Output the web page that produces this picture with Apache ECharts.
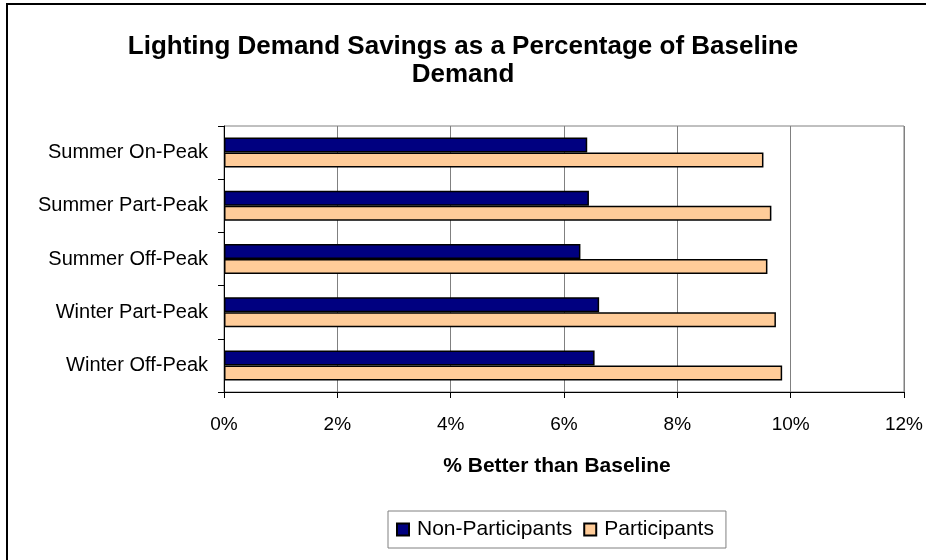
<!DOCTYPE html>
<html>
<head>
<meta charset="utf-8">
<script src="https://cdn.jsdelivr.net/npm/echarts@6/dist/echarts.min.js"></script>
<style>
  html, body { margin: 0; padding: 0; background: #fff; }
  #chart { width: 926px; height: 560px; }
</style>
</head>
<body>
<div id="chart"></div>
<script>
// Rate periods (top to bottom)
const categories = [
  'Summer On-Peak',
  'Summer Part-Peak',
  'Summer Off-Peak',
  'Winter Part-Peak',
  'Winter Off-Peak'
];
// Demand savings, percent better than baseline
const nonParticipants = [6.41, 6.44, 6.29, 6.62, 6.54];
const participants = [9.52, 9.66, 9.59, 9.74, 9.85];
const seriesNames = ['Non-Participants', 'Participants'];
const xTicks = { min: 0, max: 12, interval: 2 };

const FONT = '"Liberation Sans", Arial, sans-serif';

const chart = echarts.init(document.getElementById('chart'), null, { renderer: 'canvas' });

chart.setOption({
  backgroundColor: '#ffffff',
  animation: false,
  title: {
    text: 'Lighting Demand Savings as a Percentage of Baseline\nDemand',
    left: 'center',
    top: 33,
    padding: 0,
    textStyle: {
      fontFamily: FONT,
      fontSize: 26,
      fontWeight: 'bold',
      color: '#000',
      lineHeight: 28
    }
  },
  graphic: [{
    type: 'rect',
    shape: { x: 7, y: 4, width: 1000, height: 1000 },
    style: { fill: 'none', stroke: '#000', lineWidth: 2 },
    silent: true
  }],
  grid: {
    left: 224,
    right: 20,
    top: 126,
    bottom: 168,
    show: true,
    borderColor: '#808080',
    borderWidth: 1
  },
  legend: {
    left: 388,
    top: 511,
    data: seriesNames,
    orient: 'horizontal',
    icon: 'rect',
    itemWidth: 12,
    itemHeight: 12,
    itemGap: 11,
    padding: [8, 12, 8, 8],
    borderColor: '#808080',
    borderWidth: 1,
    textStyle: { fontFamily: FONT, fontSize: 21, color: '#000', padding: [0, 0, 0, 3] }
  },
  xAxis: {
    type: 'value',
    min: xTicks.min,
    max: xTicks.max,
    interval: xTicks.interval,
    name: '% Better than Baseline',
    nameLocation: 'middle',
    nameGap: 64,
    nameTextStyle: {
      fontFamily: FONT,
      fontSize: 21,
      fontWeight: 'bold',
      color: '#000',
      padding: [0, 14, 0, 0]
    },
    axisLine: { show: true, lineStyle: { color: '#000', width: 1 } },
    axisTick: { show: true, inside: false, length: 6, lineStyle: { color: '#000' } },
    axisLabel: {
      fontFamily: FONT,
      fontSize: 19,
      color: '#000',
      margin: 23,
      formatter: v => v + '%'
    },
    splitLine: { show: true, lineStyle: { color: '#808080', width: 1 } }
  },
  yAxis: {
    type: 'category',
    data: categories,
    inverse: true,
    axisLine: { show: true, lineStyle: { color: '#000', width: 1 } },
    axisTick: { show: true, length: 6, lineStyle: { color: '#000' } },
    axisLabel: { fontFamily: FONT, fontSize: 20, color: '#000', margin: 16 },
    splitLine: { show: false }
  },
  series: [
    {
      name: seriesNames[0],
      type: 'bar',
      data: nonParticipants,
      barWidth: 15,
      barGap: '0%',
      itemStyle: { color: '#000080', borderColor: '#000', borderWidth: 1.5 }
    },
    {
      name: seriesNames[1],
      type: 'bar',
      data: participants,
      barWidth: 15,
      barGap: '0%',
      itemStyle: { color: '#FFCC99', borderColor: '#000', borderWidth: 1.5 }
    }
  ]
});
</script>
</body>
</html>
